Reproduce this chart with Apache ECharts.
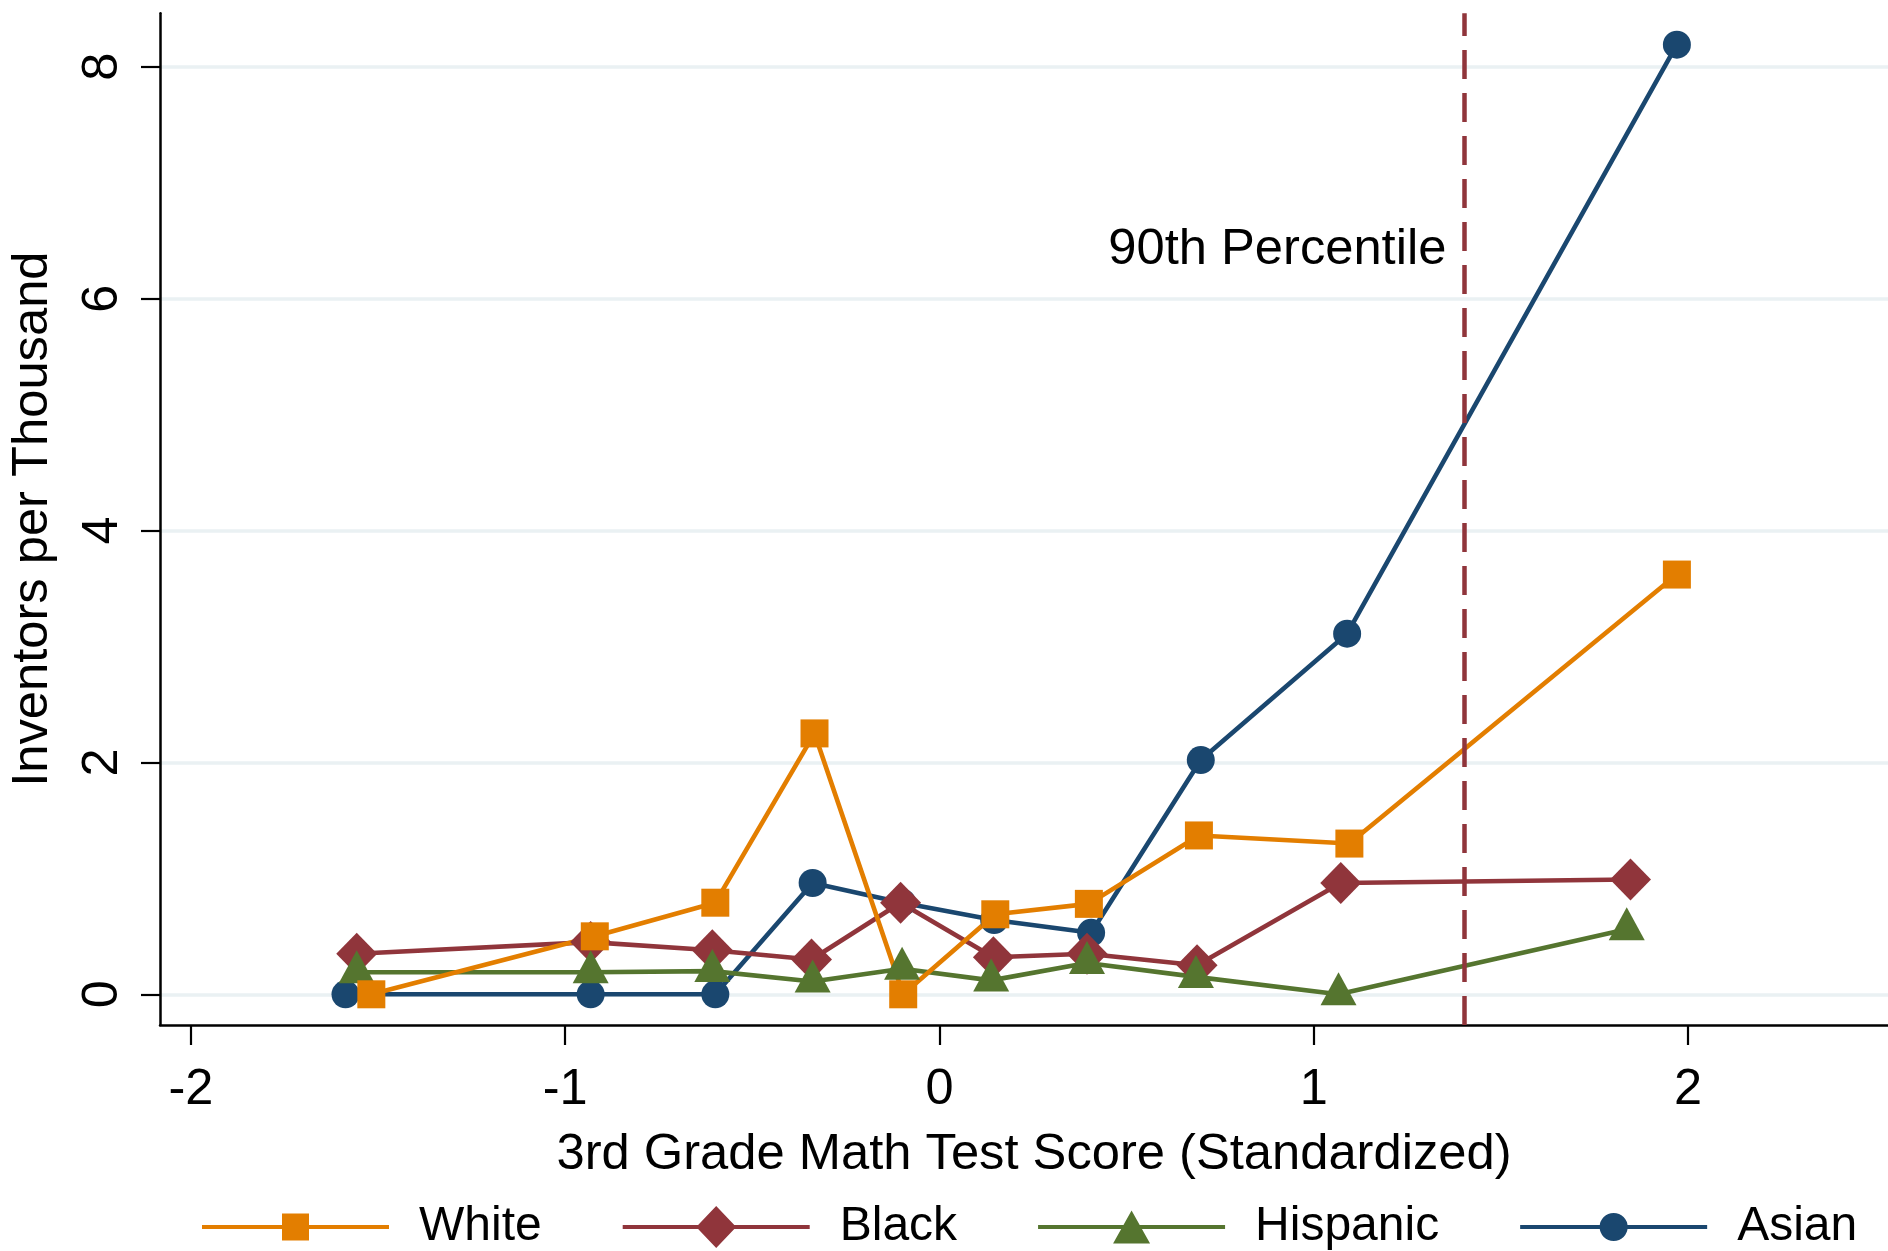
<!DOCTYPE html>
<html>
<head>
<meta charset="utf-8">
<title>Inventors per Thousand by 3rd Grade Math Test Score</title>
<script src="https://cdn.jsdelivr.net/npm/echarts@6/dist/echarts.min.js"></script>
<style>
  html, body { margin: 0; padding: 0; background: #ffffff; }
  #chart { width: 1888px; height: 1251px; }
</style>
</head>
<body>
<div id="chart"></div>
<script>
// Mean standardized test score of each bin, and inventors per thousand, by group
const xWhite    = [-1.518, -0.921, -0.599, -0.334, -0.097, 0.149, 0.399, 0.693, 1.095, 1.970];
const yWhite    = [0.00, 0.50, 0.79, 2.25, 0.00, 0.69, 0.78, 1.37, 1.30, 3.62];
const xBlack    = [-1.557, -0.932, -0.607, -0.342, -0.104, 0.144, 0.394, 0.688, 1.072, 1.846];
const yBlack    = [0.35, 0.45, 0.38, 0.30, 0.79, 0.32, 0.35, 0.25, 0.96, 0.99];
const xHispanic = [-1.557, -0.932, -0.607, -0.339, -0.100, 0.138, 0.394, 0.685, 1.066, 1.836];
const yHispanic = [0.19, 0.19, 0.20, 0.11, 0.22, 0.12, 0.27, 0.15, 0.00, 0.56];
const xAsian    = [-1.587, -0.932, -0.599, -0.339, -0.100, 0.146, 0.405, 0.698, 1.089, 1.970];
const yAsian    = [0.00, 0.00, 0.00, 0.96, 0.79, 0.64, 0.53, 2.02, 3.11, 8.19];

// Axis ticks
const xTicks = [-2, -1, 0, 1, 2];
const yTicks = [0, 2, 4, 6, 8];

// 90th percentile of the test score distribution
const p90 = 1.401;
const p90Label = '90th Percentile';
const p90LabelY = 6.42;

const groups = ['White', 'Black', 'Hispanic', 'Asian'];

const FONT = '"Liberation Sans", Arial, Helvetica, sans-serif';
const colors = { White: '#E37E00', Black: '#90353B', Hispanic: '#55752F', Asian: '#1A476F' };

const X_MIN = -2.0826, X_MAX = 2.534;
const Y_MIN = -0.2648, Y_MAX = 8.4605;

const zip = (xs, ys) => xs.map((x, i) => [x, ys[i]]);

// Legend keys: a line segment with the group's marker in its middle
const legendIcons = {
  White:    'path://M0 0M212 42M0 18.9H187V23.1H0ZM80 7.5H107V34.5H80Z',
  Black:    'path://M0 0M212 42M0 18.9H187V23.1H0ZM93.5 0L113.5 21L93.5 42L73.5 21Z',
  Hispanic: 'path://M0 0M212 42M0 18.9H187V23.1H0ZM93.5 4.5L112 37.5L75 37.5Z',
  Asian:    'path://M0 0M212 42M0 18.9H187V23.1H0ZM79.5 21A14 14 0 1 1 107.5 21A14 14 0 1 1 79.5 21Z'
};

function groupSeries(name, data, symbol, size, offset) {
  return {
    name: name,
    type: 'line',
    data: data,
    symbol: symbol,
    symbolSize: size,
    symbolOffset: offset || [0, 0],
    showAllSymbol: true,
    color: colors[name],
    itemStyle: { color: colors[name], borderWidth: 0 },
    lineStyle: { color: colors[name], width: 4.6 },
    emphasis: { disabled: true },
    animation: false,
    clip: false
  };
}

const chart = echarts.init(document.getElementById('chart'), null, { renderer: 'canvas' });

chart.setOption({
  backgroundColor: '#ffffff',
  animation: false,
  textStyle: { fontFamily: FONT, color: '#000000' },
  grid: { left: 159.5, right: 0, top: 13.3, bottom: 226, containLabel: false },
  xAxis: {
    type: 'value',
    min: X_MIN,
    max: X_MAX,
    position: 'bottom',
    axisLine: { show: true, onZero: false, lineStyle: { color: '#000000', width: 2.5 } },
    axisTick: { show: true, inside: false, length: 20, customValues: xTicks,
                lineStyle: { color: '#000000', width: 2.2 } },
    axisLabel: { show: true, customValues: xTicks, margin: 40, fontSize: 50.5,
                 fontFamily: FONT, color: '#000000',
                 formatter: v => String(v) },
    splitLine: { show: false },
    name: '3rd Grade Math Test Score (Standardized)',
    nameLocation: 'middle',
    nameGap: 105,
    nameTextStyle: { fontSize: 50.7, fontFamily: FONT, color: '#000000',
                     padding: [0, 0, 0, 20] }
  },
  yAxis: {
    type: 'value',
    min: Y_MIN,
    max: Y_MAX,
    position: 'left',
    axisLine: { show: true, onZero: false, lineStyle: { color: '#000000', width: 2.5 } },
    axisTick: { show: true, inside: false, length: 19, customValues: yTicks,
                lineStyle: { color: '#000000', width: 2.2 } },
    axisLabel: { show: true, customValues: yTicks, rotate: 90, margin: 31, fontSize: 50.5,
                 fontFamily: FONT, color: '#000000',
                 formatter: v => String(v) },
    splitLine: { show: true, showMinLine: true, showMaxLine: true,
                 lineStyle: { color: '#EAF1F3', width: 3.5 } },
    name: 'Inventors per Thousand',
    nameLocation: 'middle',
    nameGap: 101,
    nameTextStyle: { fontSize: 50.7, fontFamily: FONT, color: '#000000' }
  },
  legend: {
    show: true,
    left: 202,
    top: 1203,
    padding: 0,
    orient: 'horizontal',
    itemWidth: 212,
    itemHeight: 42,
    itemGap: 81,
    selectedMode: false,
    itemStyle: { borderWidth: 0 },
    textStyle: { fontSize: 48, fontFamily: FONT, color: '#000000' },
    data: groups.map(g => ({ name: g, icon: legendIcons[g] }))
  },
  series: [
    {
      name: 'p90',
      type: 'line',
      data: [],
      silent: true,
      animation: false,
      markLine: {
        silent: true,
        animation: false,
        symbol: ['none', 'none'],
        label: { show: false },
        lineStyle: { color: '#90353B', width: 4.5, type: [29, 14] },
        emphasis: { disabled: true },
        data: [[{ coord: [p90, Y_MIN] }, { coord: [p90, Y_MAX] }]]
      },
      markPoint: {
        silent: true,
        animation: false,
        symbol: 'circle',
        symbolSize: 1,
        itemStyle: { color: 'rgba(0,0,0,0)' },
        label: { show: true, position: 'left', distance: 17, formatter: p90Label,
                 fontSize: 50.7, fontFamily: FONT, color: '#000000' },
        data: [{ coord: [p90, p90LabelY] }]
      }
    },
    groupSeries('Asian', zip(xAsian, yAsian), 'circle', 28),
    groupSeries('Black', zip(xBlack, yBlack), 'diamond', [41, 42]),
    groupSeries('Hispanic', zip(xHispanic, yHispanic), 'triangle', [36, 33], [0, -5.5]),
    groupSeries('White', zip(xWhite, yWhite), 'rect', 28)
  ]
});
</script>
</body>
</html>
